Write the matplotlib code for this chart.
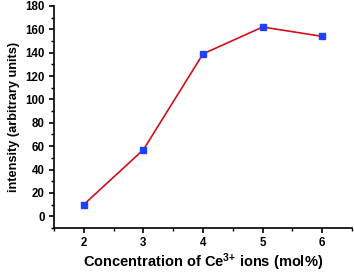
import matplotlib
matplotlib.use("Agg")
import matplotlib.pyplot as plt
from matplotlib.ticker import MultipleLocator

conc = [2, 3, 4, 5, 6]
intensity = [10, 57, 139, 162, 154]

plt.rcParams['font.family'] = ['Liberation Sans', 'DejaVu Sans']
plt.rcParams['font.weight'] = 'bold'
plt.rcParams['mathtext.fontset'] = 'custom'
plt.rcParams['mathtext.bf'] = 'Liberation Sans:bold'
plt.rcParams['mathtext.rm'] = 'Liberation Sans:bold'
plt.rcParams['mathtext.default'] = 'bf'

fig = plt.figure(figsize=(3.54, 2.72), dpi=100)
ax = fig.add_axes([0.1525, 0.162, 0.842, 0.816])
ax.plot(conc, intensity, color='#d0101a', lw=1.2, marker='s', ms=4.2,
        mfc='#2040ff', mec='#2040ff', zorder=3)
ax.set_xlim(1.5, 6.5)
ax.set_ylim(-10, 180)
ax.xaxis.set_major_locator(MultipleLocator(1))
ax.xaxis.set_minor_locator(MultipleLocator(0.5))
ax.yaxis.set_major_locator(MultipleLocator(20))
ax.yaxis.set_minor_locator(MultipleLocator(10))
for s in ['top', 'right']:
    ax.spines[s].set_visible(False)
for s in ['left', 'bottom']:
    ax.spines[s].set_linewidth(1.2)
ax.tick_params(which='major', length=3.5, width=1.2, labelsize=8.3, pad=3)
ax.tick_params(which='minor', length=2, width=1.0)
for lab in ax.get_xticklabels() + ax.get_yticklabels():
    lab.set_fontweight('bold')
ax.set_xlabel('Concentration of Ce$^{3{+}}$ ions (mol%)', fontsize=10.5, fontweight='bold', labelpad=1.5)
ax.set_ylabel('intensity (arbitrary units)', fontsize=9.2, fontweight='bold', labelpad=4)
fig.savefig('out.png', dpi=100)
